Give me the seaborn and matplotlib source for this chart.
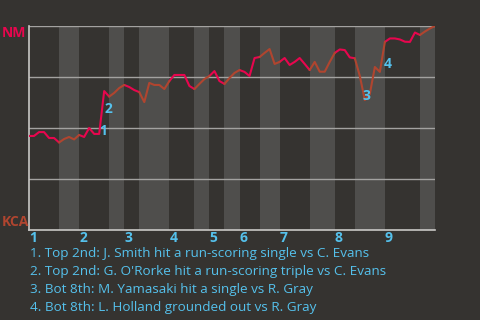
import numpy as np
import pandas as pd
import matplotlib
matplotlib.use("Agg")
import matplotlib.pyplot as plt
import seaborn as sns

# ---- data ----
half_pa = [6, 4, 6, 3, 3, 6, 5, 3, 3, 3, 4, 4, 6, 5, 4, 6, 7, 3]  # PAs per half-inning
innings = ["1", "2", "3", "4", "5", "6", "7", "8", "9"]
# NM win probability (%) after each plate appearance (index 0 = start)
wp = [46.1, 46.1, 48.0, 48.0, 45.1, 45.1, 42.9, 44.6, 45.6, 44.4,
      46.6, 45.6, 50.0, 47.1, 47.1, 68.1, 65.4, 67.2, 69.6, 71.1,
      70.1, 68.6, 67.6, 62.7, 72.1, 71.1, 71.1, 69.1, 73.0, 76.0,
      76.0, 76.0, 70.6, 69.1, 71.6, 74.0, 75.5, 77.9, 73.0, 71.6,
      74.5, 77.0, 78.4, 77.5, 75.5, 84.3, 84.8, 86.8, 88.7, 81.4,
      82.4, 84.3, 80.9, 82.4, 84.3, 81.4, 78.4, 82.4, 77.6, 77.6,
      82.4, 86.8, 88.5, 88.2, 84.6, 84.2, 75.5, 63.7, 66.7, 79.9,
      77.5, 92.2, 93.9, 93.9, 93.4, 92.3, 92.2, 96.8, 95.6, 97.3,
      98.8, 100.0]
event_ids = ["1", "2", "3", "4"]
event_pa = [14, 15, 67, 70]
events = ["1. Top 2nd: J. Smith hit a run-scoring single vs C. Evans",
          "2. Top 2nd: G. O'Rorke hit a run-scoring triple vs C. Evans",
          "3. Bot 8th: M. Yamasaki hit a single vs R. Gray",
          "4. Bot 8th: L. Holland grounded out vs R. Gray"]
team_top, team_bot = "NM", "KCA"

# ---- styles ----
BG = "#353330"
BAND = "#4f4e4c"
RED = "#e8064e"
BROWN = "#b0452f"
BLUE = "#55c1ec"
GRID = "#a3a2a0"

sns.set_theme(style="dark")
plt.rcParams["font.family"] = ["Open Sans", "DejaVu Sans"]

starts = np.concatenate([[0], np.cumsum(half_pa)])
rows = []
for h in range(len(half_pa)):
    for i in range(starts[h], starts[h + 1] + 1):
        rows.append({"pa": i, "wp": wp[i], "seg": h,
                     "half": "top" if h % 2 == 0 else "bot"})
df = pd.DataFrame(rows)

fig = plt.figure(figsize=(4.8, 3.2), dpi=100, facecolor=BG)
ax = fig.add_axes([29 / 480, 1 - 230 / 320, 406 / 480, 204 / 320])
ax.set_facecolor(BG)

for h in range(1, len(half_pa), 2):
    ax.axvspan(starts[h], starts[h + 1], color=BAND, lw=0, zorder=0)

for yv in [25, 50, 75, 100]:
    ax.axhline(yv, color=GRID, lw=1.0, zorder=1)

sns.lineplot(data=df, x="pa", y="wp", units="seg", hue="half", estimator=None,
             palette={"top": RED, "bot": BROWN}, legend=False, lw=1.5,
             ax=ax, zorder=3)

ax.set_xlim(0, starts[-1])
ax.set_ylim(0, 100)
for s in ["top", "right"]:
    ax.spines[s].set_visible(False)
for s in ["left", "bottom"]:
    ax.spines[s].set_color("#c9c8c6")
    ax.spines[s].set_linewidth(1.2)
ax.set_xlabel("")
ax.set_ylabel("")
ax.set_yticks([])
ax.set_xticks(starts[0:-1:2])
ax.set_xticklabels(innings, color=BLUE, fontweight="bold", fontsize=10,
                   ha="left")
ax.tick_params(axis="x", length=0, pad=1)
ax.grid(False)

offs = [(0.0, 1.4), (0.0, -9.0), (-0.4, 2.2), (0.8, 3.9)]
for lab, p, (dx, dy) in zip(event_ids, event_pa, offs):
    ax.text(p + dx, wp[p] + dy, lab, color=BLUE, fontweight="bold",
            fontsize=10, ha="left", va="center", zorder=4)

fig.text(2 / 480, 1 - 33 / 320, team_top, color=RED, fontweight="bold",
         fontsize=10, ha="left", va="center")
fig.text(2 / 480, 1 - 222 / 320, team_bot, color=BROWN, fontweight="bold",
         fontsize=10, ha="left", va="center")

for k, t in enumerate(events):
    fig.text(30 / 480, 1 - (254 + 18 * k) / 320, t, color=BLUE, fontsize=9.7,
             ha="left", va="center")

fig.savefig("out.png", dpi=100, facecolor=BG)
